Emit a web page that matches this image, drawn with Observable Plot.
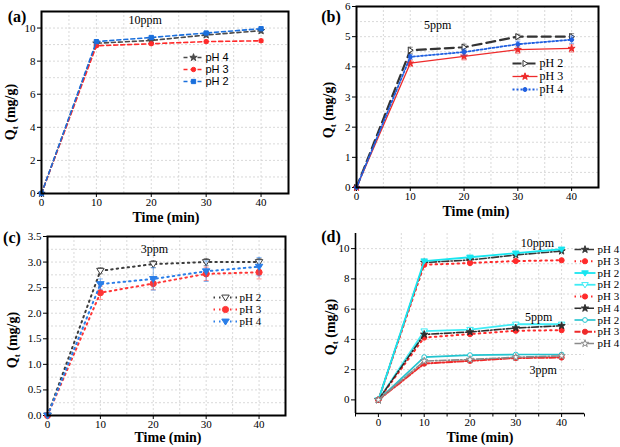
<!DOCTYPE html>
<html><head><meta charset="utf-8">
<script src="https://cdn.jsdelivr.net/npm/d3@7"></script>
<script src="https://cdn.jsdelivr.net/npm/@observablehq/plot@0.6"></script>
<style>
body{margin:0;background:#fff;}
#fig{position:relative;width:620px;height:447px;overflow:hidden;font-family:"Liberation Serif","Times New Roman",serif;color:#000;}
.lab{position:absolute;font-weight:bold;font-size:14px;white-space:nowrap;transform:translate(-50%,-50%);line-height:1;}
.ylab{transform:translate(-50%,-50%) rotate(-90deg);}
.plab{position:absolute;font-weight:bold;font-size:16px;white-space:nowrap;transform:translate(-50%,-50%);line-height:1;}
sub{font-size:65%;vertical-align:-0.25em;}
</style></head><body><div id="fig"></div>
<script>
// ---------- data ----------
const time = [0, 10, 20, 30, 40];
const xTicks = [0, 10, 20, 30, 40];

// (a) 10 ppm
const a_pH4 = [0, 9.08, 9.25, 9.58, 9.84];
const a_pH3 = [0, 8.93, 9.05, 9.18, 9.23];
const a_pH2 = [0, 9.18, 9.43, 9.70, 9.96];
const a_err4 = [0, 0.10, 0.10, 0.12, 0.15];
const a_err3 = [0, 0.10, 0.08, 0.10, 0.10];
const a_err2 = [0, 0.08, 0.08, 0.08, 0.10];
const a_yTicks = [0, 2, 4, 6, 8, 10];

// (b) 5 ppm
const b_pH2 = [0, 4.55, 4.65, 5.00, 5.00];
const b_pH3 = [0, 4.12, 4.35, 4.57, 4.61];
const b_pH4 = [0, 4.33, 4.49, 4.75, 4.90];
const b_err2 = [0, 0.10, 0.10, 0.08, 0.10];
const b_err3 = [0, 0.10, 0.12, 0.12, 0.12];
const b_err4 = [0, 0.08, 0.10, 0.10, 0.12];
const b_yTicks = [0, 1, 2, 3, 4, 5, 6];

// (c) 3 ppm
const c_pH2 = [0, 2.83, 2.96, 3.00, 3.00];
const c_pH3 = [0, 2.40, 2.58, 2.77, 2.80];
const c_pH4 = [0, 2.57, 2.67, 2.82, 2.91];
const c_err2 = [0, 0.06, 0.07, 0.07, 0.07];
const c_err3 = [0, 0.13, 0.12, 0.13, 0.13];
const c_err4 = [0, 0.10, 0.22, 0.20, 0.18];
const c_yTicks = [0, 0.5, 1, 1.5, 2, 2.5, 3, 3.5];

const d_yTicks = [0, 2, 4, 6, 8, 10];

const legendA = ["pH 4", "pH 3", "pH 2"];
const legendB = ["pH 2", "pH 3", "pH 4"];
const legendC = ["pH 2", "pH 3", "pH 4"];
const legendD = ["pH 4", "pH 3", "pH 2", "pH 2", "pH 3", "pH 4", "pH 2", "pH 3", "pH 4"];

const ppmA = [{t: 18.9, q: 10.45, label: "10ppm"}];
const ppmB = [{t: 15.1, q: 5.38, label: "5ppm"}];
const ppmC = [{t: 20.2, q: 3.26, label: "3ppm"}];
const ppmD = [{t: 34.7, q: 10.34, label: "10ppm"}, {t: 35.0, q: 5.45, label: "5ppm"}, {t: 36.0, q: 1.94, label: "3ppm"}];

// ---------- symbols ----------
const triDown = {draw(ctx, size){ const r = Math.sqrt(size/Math.PI)*1.1; ctx.moveTo(-r, -r*0.65); ctx.lineTo(r, -r*0.65); ctx.lineTo(0, r*0.95); ctx.closePath(); }};
const triRight = {draw(ctx, size){ const r = Math.sqrt(size/Math.PI)*1.1; ctx.moveTo(-r*0.65, -r); ctx.lineTo(r*0.95, 0); ctx.lineTo(-r*0.65, r); ctx.closePath(); }};
const capSym = {draw(ctx, size){ const r = Math.sqrt(size/Math.PI); ctx.moveTo(-r, 0); ctx.lineTo(r, 0); }};
const vTick = {draw(ctx, size){ const r = Math.sqrt(size/Math.PI); ctx.moveTo(0, 0); ctx.lineTo(0, r); }};

// ---------- series styles ----------
const DASH = "4,3", DOT = "1.5,4", DASHDOT = "7,2,1.5,2";
const seriesA = [
  {values: a_pH4, err: a_err4, color: "#4a4a4a", dash: DASH, width: 1.6, symbol: "star", r: 2.3, fill: "#4a4a4a"},
  {values: a_pH3, err: a_err3, color: "#ff2a2a", dash: DASH, width: 1.6, symbol: "circle", r: 2.2, fill: "#ff2a2a"},
  {values: a_pH2, err: a_err2, color: "#1a6fdc", dash: DASH, width: 1.6, symbol: "square", r: 2.4, fill: "#1a6fdc"}
];
const seriesB = [
  {values: b_pH2, err: b_err2, color: "#333333", dash: "9,5", width: 2.2, symbol: triRight, r: 2.8, fill: "white"},
  {values: b_pH3, err: b_err3, color: "#ee2b2b", dash: null, width: 1.3, symbol: "star", r: 2.2, fill: "#ee2b2b"},
  {values: b_pH4, err: b_err4, color: "#1f5fe0", dash: "2,2", width: 1.8, symbol: "circle", r: 2.0, fill: "#1f5fe0"}
];
const seriesC = [
  {values: c_pH2, err: c_err2, color: "#3c3c3c", dash: DOT, width: 2, symbol: triDown, r: 3.4, fill: "white"},
  {values: c_pH3, err: c_err3, color: "#ff3535", dash: DOT, width: 2, symbol: "circle", r: 3.1, fill: "#ff3535"},
  {values: c_pH4, err: c_err4, color: "#2a7ee8", dash: DOT, width: 2, symbol: triDown, r: 3.4, fill: "#2a7ee8"}
];
const seriesD = [
  {values: a_pH4, color: "#383838", dash: DASHDOT, width: 1.6, symbol: "star", r: 2.3, fill: "#383838"},
  {values: a_pH3, color: "#ff2a2a", dash: DOT, width: 2, symbol: "circle", r: 2.6, fill: "#ff2a2a"},
  {values: a_pH2, color: "#18e6f0", dash: null, width: 1.8, symbol: triDown, r: 3, fill: "#18e6f0"},
  {values: b_pH2, color: "#3eecf5", dash: null, width: 1.8, symbol: triDown, r: 3, fill: "white"},
  {values: b_pH3, color: "#ff2a2a", dash: DOT, width: 2, symbol: "circle", r: 2.6, fill: "#ff2a2a"},
  {values: b_pH4, color: "#2e2e2e", dash: DASHDOT, width: 1.6, symbol: "star", r: 2.3, fill: "#2e2e2e"},
  {values: c_pH2, color: "#22c4cf", dash: null, width: 1.6, symbol: "circle", r: 2.4, fill: "white"},
  {values: c_pH3, color: "#ee2a2a", dash: "6,2,1.5,2", width: 2, symbol: "circle", r: 2.6, fill: "#ee2a2a"},
  {values: c_pH4, color: "#8a8a8a", dash: DASHDOT, width: 1.6, symbol: "star", r: 2.3, fill: "white"}
];

// ---------- helpers ----------
const fig = document.getElementById("fig");
function place(el, left, top){ el.style.position = "absolute"; el.style.left = left + "px"; el.style.top = top + "px"; fig.appendChild(el); }
function html(cls, inner, x, y){ const d = document.createElement("div"); d.className = cls; d.innerHTML = inner; d.style.left = x + "px"; d.style.top = y + "px"; fig.appendChild(d); }

function seriesMarks(series, withErr){
  const marks = [];
  for (const s of series){
    const rows = time.map((t, i) => ({t, v: s.values[i], e: s.err ? s.err[i] : 0}));
    marks.push(Plot.line(rows, {x: "t", y: "v", stroke: s.color, strokeWidth: s.width, strokeDasharray: s.dash || undefined}));
    if (withErr && s.err){
      const er = rows.filter(d => d.e > 0);
      marks.push(Plot.ruleX(er, {x: "t", y1: d => d.v - d.e, y2: d => d.v + d.e, stroke: s.color, strokeWidth: 1, strokeOpacity: 0.55}));
      marks.push(Plot.dot(er, {x: "t", y: d => d.v - d.e, symbol: capSym, r: 2.5, stroke: s.color, strokeWidth: 1, strokeOpacity: 0.55}));
      marks.push(Plot.dot(er, {x: "t", y: d => d.v + d.e, symbol: capSym, r: 2.5, stroke: s.color, strokeWidth: 1, strokeOpacity: 0.55}));
    }
    marks.push(Plot.dot(rows, {x: "t", y: "v", symbol: s.symbol, r: s.r, fill: s.fill, stroke: s.color, strokeWidth: 1}));
  }
  return marks;
}

const gridStyle = {stroke: "#cfcfcf", strokeOpacity: 0.8, strokeDasharray: "2,2"};

function panel(o){
  const marks = [
    Plot.gridX(o.gridX, gridStyle),
    Plot.gridY(o.gridY, gridStyle),
    ...seriesMarks(o.series, o.err),
    Plot.text(o.ppm, {x: "t", y: "q", text: "label", fontFamily: "Liberation Serif", fontSize: 12, fill: "black"})
  ];
  if (o.box) marks.push(Plot.frame({stroke: "black", strokeWidth: 2}));
  else {
    const x0 = o.xDomain[0], y0 = o.yDomain[0];
    marks.push(Plot.ruleX([x0], {stroke: "black", strokeWidth: 1.6}));
    marks.push(Plot.ruleY([y0], {stroke: "black", strokeWidth: 1.6}));
    marks.push(Plot.dot(o.minorX, {x: d => d, y: () => y0, symbol: vTick, r: 3, stroke: "black", strokeWidth: 1}));
  }
  return Plot.plot({
    width: o.width, height: o.height,
    marginLeft: o.ml, marginRight: o.mr, marginTop: o.mt, marginBottom: o.mb,
    style: {fontFamily: "Liberation Serif", fontSize: "11px", overflow: "visible", background: "transparent", color: "black"},
    x: {domain: o.xDomain, ticks: xTicks, tickSize: 4, tickPadding: 1, tickFormat: d3.format("d"), label: null},
    y: {domain: o.yDomain, ticks: o.yTicks, tickSize: 4, tickPadding: 2, label: null, tickFormat: o.yFormat || d3.format("d")},
    marks
  });
}

function legend(labels, styles, o){
  const n = labels.length, padX = 5, padY = 8;
  const rows = labels.map((label, i) => ({i, label}));
  const marks = [];
  rows.forEach((d, i) => {
    const s = styles[i];
    marks.push(Plot.link([d], {x1: 0, x2: 1, y1: "i", y2: "i", stroke: s.color, strokeWidth: s.width, strokeDasharray: s.dash || undefined}));
    marks.push(Plot.dot([d], {x: 0.5, y: "i", symbol: s.symbol, r: s.r, fill: s.fill, stroke: s.color, strokeWidth: 1}));
    marks.push(Plot.text([d], {x: 1, y: "i", text: "label", textAnchor: "start", dx: 2, fill: "black", fontFamily: o.font, fontSize: o.size}));
  });
  const w = o.x1 - o.x0 + 50, h = o.y1 - o.y0 + 2 * padY;
  const svg = Plot.plot({
    width: w, height: h, margin: 0,
    style: {overflow: "visible", background: "transparent"},
    x: {domain: [0, 1], range: [padX, padX + o.x1 - o.x0], axis: null},
    y: {domain: [0, n - 1], range: [padY, padY + o.y1 - o.y0], axis: null},
    marks
  });
  place(svg, o.x0 - padX, o.y0 - padY);
}

// ---------- panels ----------
place(panel({width: 310, height: 222, ml: 41, mr: 22, mt: 11, mb: 29, xDomain: [0, 45], yDomain: [0, 11], yTicks: a_yTicks,
  gridX: d3.range(5, 45, 5), gridY: d3.range(1, 11, 1), series: seriesA, err: true, ppm: ppmA, box: true}), 0, 0);
place(panel({width: 310, height: 222, ml: 46, mr: 22, mt: 6, mb: 35, xDomain: [0, 45], yDomain: [0, 6], yTicks: b_yTicks,
  gridX: d3.range(5, 45, 5), gridY: d3.range(0.5, 6, 0.5), series: seriesB, err: true, ppm: ppmB, box: true}), 310, 0);
place(panel({width: 310, height: 225, ml: 47, mr: 25, mt: 14, mb: 32, xDomain: [0, 45], yDomain: [0, 3.5], yTicks: c_yTicks, yFormat: d3.format(".1f"),
  gridX: d3.range(5, 45, 5), gridY: d3.range(0.25, 3.5, 0.25), series: seriesC, err: true, ppm: ppmC, box: true}), 0, 222);
place(panel({width: 310, height: 225, ml: 45, mr: 36, mt: 11, mb: 34, xDomain: [-5, 45], yDomain: [-0.9, 11], yTicks: d_yTicks,
  gridX: d3.range(5, 45, 5), gridY: d3.range(1, 11, 1), minorX: d3.range(-5, 46, 10), series: seriesD, err: false, ppm: ppmD, box: false}), 310, 222);

// ---------- legends ----------
legend(legendA, seriesA, {x0: 183, x1: 203, y0: 57, y1: 81, font: "Liberation Sans", size: 11});
legend(legendB, seriesB, {x0: 512, x1: 537, y0: 63, y1: 89, font: "Liberation Serif", size: 12});
legend(legendC, seriesC, {x0: 213, x1: 237, y0: 297, y1: 321, font: "Liberation Serif", size: 11});
legend(legendD, seriesD, {x0: 574, x1: 595, y0: 249, y1: 343, font: "Liberation Serif", size: 11});

// ---------- text labels ----------
const ylab = "Q<sub>t</sub> (mg/g)", xlab = "Time (min)";
html("lab", xlab, 166, 218);
html("lab", xlab, 476, 212);
html("lab", xlab, 168, 438);
html("lab", xlab, 480, 438);
html("lab ylab", ylab, 12, 112);
html("lab ylab", ylab, 330, 110);
html("lab ylab", ylab, 14, 340);
html("lab ylab", ylab, 332, 327);
html("plab", "(a)", 17, 17);
html("plab", "(b)", 331, 17);
html("plab", "(c)", 12, 238);
html("plab", "(d)", 331, 237);
</script></body></html>
